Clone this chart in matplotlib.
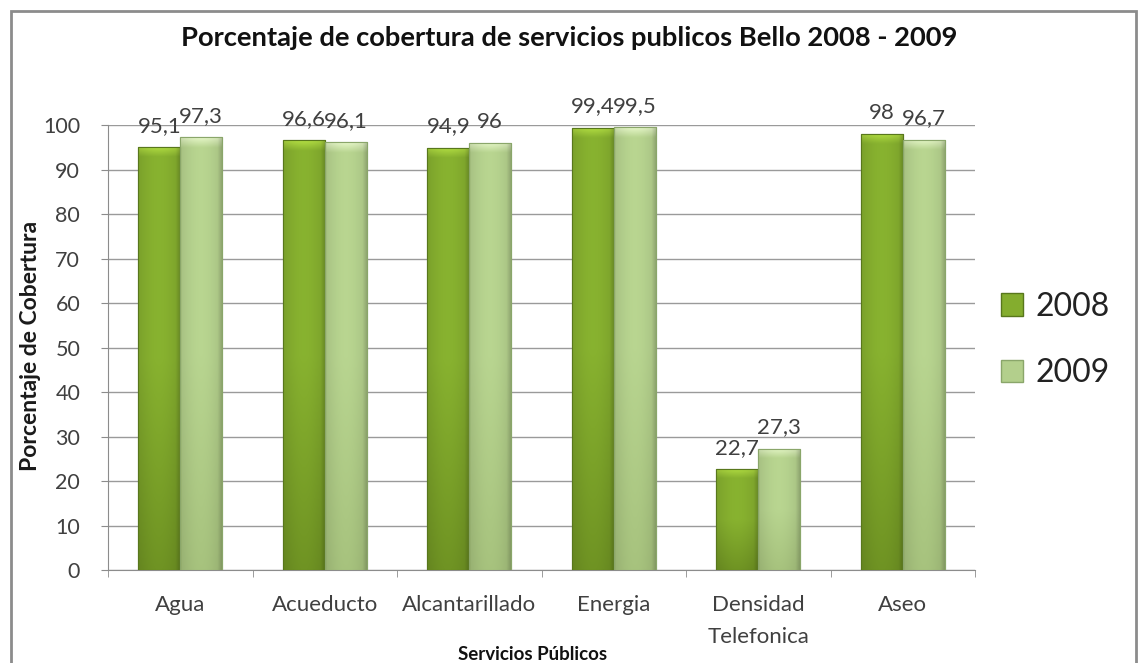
import numpy as np
import matplotlib
matplotlib.use("Agg")
import matplotlib.pyplot as plt
from matplotlib.patches import Patch, Rectangle
from matplotlib.colors import to_rgb

plt.rcParams['font.family'] = ['Lato', 'DejaVu Sans']

# data
servicios = ['Agua', 'Acueducto', 'Alcantarillado', 'Energia', 'Densidad\nTelefonica', 'Aseo']
cob_2008 = [95.1, 96.6, 94.9, 99.4, 22.7, 98.0]
cob_2009 = [97.3, 96.1, 96.0, 99.5, 27.3, 96.7]
etiq_2008 = ['95,1', '96,6', '94,9', '99,4', '22,7', '98']
etiq_2009 = ['97,3', '96,1', '96', '99,5', '27,3', '96,7']
anios = ['2008', '2009']

# colours: (top highlight, body, bottom, edge)
col_2008 = ('#acd640', '#84ad2e', '#6c8f22', '#58771c')
col_2009 = ('#ddeec0', '#b3cf8c', '#a2bd7a', '#8aa66a')

fig = plt.figure(figsize=(11.38, 6.63), dpi=100)
ax = fig.add_axes([108/1138, 1-570/663, (975-108)/1138, (570-125)/663])

x = np.arange(len(servicios))
w = 0.29


def gradient_bar(ax, xc, h, cols):
    top, body, bot, edge = [np.array(to_rgb(c)) for c in cols]
    bar = ax.bar(xc, h, w, color=body, edgecolor=edge, linewidth=0.8, zorder=3)[0]
    ny, nx = 300, 60
    ys = np.linspace(0, h, ny)[:, None]
    xs = np.linspace(0, 1, nx)[None, :]
    # vertical: darker at the bottom, highlight in the last ~2 units
    t_bot = np.clip(ys / max(h * 0.5, 1e-6), 0, 1)
    img = bot[None, None, :] * (1 - t_bot[..., None]) + body[None, None, :] * t_bot[..., None]
    t_top = np.clip((ys - (h - 2.2)) / 2.2, 0, 1)
    img = img * (1 - t_top[..., None]) + top[None, None, :] * t_top[..., None]
    img = np.broadcast_to(img, (ny, nx, 3)).copy()
    # horizontal shading: slightly darker left, brighter middle, dark right rim
    shade = 0.93 + 0.1 * np.sin(np.pi * xs) - 0.12 * np.clip((xs - 0.9) / 0.1, 0, 1)
    img = np.clip(img * shade[..., None], 0, 1)
    im = ax.imshow(img, extent=[xc - w/2, xc + w/2, 0, h], origin='lower',
                   aspect='auto', zorder=3, interpolation='bilinear')
    im.set_clip_path(bar)
    ax.add_patch(Rectangle((xc - w/2, 0), w, h, fill=False, edgecolor=edge,
                           linewidth=0.8, zorder=4))


for i in range(len(servicios)):
    gradient_bar(ax, x[i] - w/2, cob_2008[i], col_2008)
    gradient_bar(ax, x[i] + w/2, cob_2009[i], col_2009)
    ax.annotate(etiq_2008[i], (x[i] - w/2, cob_2008[i]), xytext=(0, 8),
                textcoords='offset points', ha='center', va='bottom',
                fontsize=16, color='#404040', zorder=5)
    ax.annotate(etiq_2009[i], (x[i] + w/2, cob_2009[i]), xytext=(0, 8),
                textcoords='offset points', ha='center', va='bottom',
                fontsize=16, color='#404040', zorder=5)

ax.set_xlim(-0.5, len(servicios) - 0.5)
ax.set_ylim(0, 100)
ax.set_yticks(np.arange(0, 101, 10))
ax.set_xticks(x)
ax.set_xticklabels(servicios, linespacing=1.75)
ax.set_xticks(np.arange(-0.5, len(servicios), 1), minor=True)
ax.tick_params(axis='x', which='major', length=0, pad=18, labelsize=16, labelcolor='#404040')
ax.tick_params(axis='x', which='minor', length=5, color='#8c8c8c', direction='out')
ax.tick_params(axis='y', length=5, color='#8c8c8c', labelsize=15.5, labelcolor='#404040', pad=15)
ax.yaxis.grid(True, color='#9a9a9a', linewidth=1, zorder=0)
ax.set_axisbelow(True)
for s in ['top', 'right']:
    ax.spines[s].set_visible(False)
ax.spines['left'].set_color('#8c8c8c')
ax.spines['bottom'].set_color('#8c8c8c')

fig.text(569/1138, 1-38/663, 'Porcentaje de cobertura de servicios publicos Bello 2008 - 2009',
         ha='center', va='center', fontsize=19.7, fontweight='bold', color='#111111')
fig.text(31/1138, 1-346/663, 'Porcentaje de Cobertura', rotation=90, ha='center',
         va='center', fontsize=16.5, fontweight='bold', color='#1a1a1a')
fig.text(533/1138, 1-655/663, 'Servicios Públicos', ha='center', va='center',
         fontsize=13.5, fontweight='bold', color='#111111')

handles = [Patch(facecolor=col_2008[1], edgecolor=col_2008[3]),
           Patch(facecolor=col_2009[1], edgecolor=col_2009[3])]
ax.legend(handles, anios, loc='center left', bbox_to_anchor=(972/1138, 1-340/663),
          bbox_transform=fig.transFigure, fontsize=23, handlelength=0.7,
          handleheight=0.7, handletextpad=0.4, labelspacing=1.15, frameon=False,
          labelcolor='#222222')

# outer chart frame
fig.patches.append(Rectangle((11/1138, -0.05), (1136-11)/1138, 1.05 - 11/663,
                             transform=fig.transFigure, fill=False,
                             edgecolor='#8c8c8c', linewidth=2))

fig.savefig('out.png', dpi=100)
